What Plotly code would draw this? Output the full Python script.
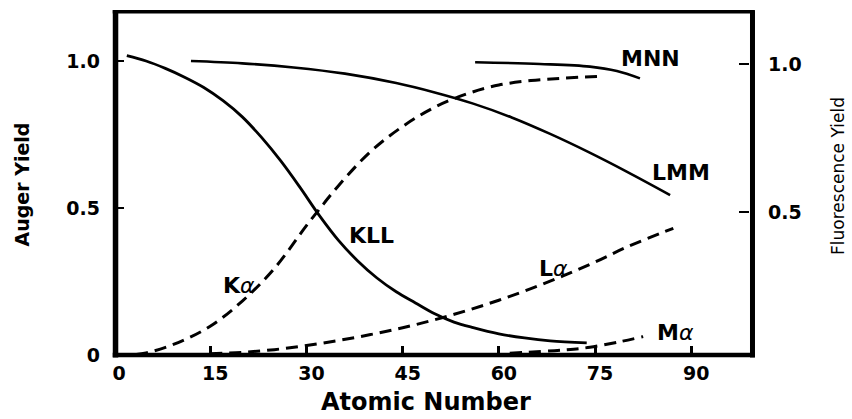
import plotly.graph_objects as go

# Auger yields (left axis)
kll_z = [2, 5, 8, 11, 14, 17, 20, 23, 26, 29, 32, 35, 38, 41, 44, 47, 50, 53, 56, 60, 64, 68, 73.7]
kll_y = [1.018, 1.0, 0.975, 0.945, 0.91, 0.865, 0.81, 0.74, 0.66, 0.57, 0.475, 0.39, 0.32, 0.262,
         0.215, 0.177, 0.14, 0.112, 0.093, 0.072, 0.058, 0.048, 0.041]

lmm_z = [12, 20, 28, 36, 44, 50, 56, 62, 68, 74, 80, 86.7]
lmm_y = [1.0, 0.992, 0.978, 0.957, 0.925, 0.893, 0.855, 0.808, 0.752, 0.69, 0.623, 0.544]

mnn_z = [56.3, 66.4, 74.2, 78.4, 82.0]
mnn_y = [0.996, 0.990, 0.981, 0.966, 0.941]

# Fluorescence yields (right axis)
ka_z = [0.5, 5, 10, 15, 20, 25, 30, 32, 35, 40, 45, 50, 55, 60, 65, 70, 76.3]
ka_y = [0.015, 0.025, 0.06, 0.115, 0.2, 0.31, 0.455, 0.51, 0.59, 0.705, 0.79, 0.855, 0.9, 0.93,
        0.945, 0.953, 0.96]

la_z = [15, 20, 25, 30, 35, 40, 45, 50, 55, 60, 65, 70, 75, 80, 87.2]
la_y = [0.022, 0.027, 0.036, 0.05, 0.067, 0.087, 0.11, 0.137, 0.168, 0.203, 0.242, 0.285, 0.332,
        0.383, 0.446]

ma_z = [61.7, 70.0, 74.2, 78.9, 82.5]
ma_y = [0.024, 0.035, 0.044, 0.063, 0.080]

x_ticks = [0, 15, 30, 45, 60, 75, 90]
auger_ticks = [0, 0.5, 1.0]
auger_ticktext = ["0", "0.5", "1.0"]
fluor_ticks = [0.5, 1.0]
fluor_ticktext = ["0.5", "1.0"]

# curve labels: (text, atomic number, auger-axis value)
alpha = "<span style='font-weight:normal'><i>α</i></span>"
curve_labels = [
    ("MNN", 83.6, 1.007),
    ("LMM", 88.4, 0.622),
    ("KLL", 40.2, 0.405),
    ("K" + alpha, 19.5, 0.238),
    ("L" + alpha, 68.5, 0.293),
    ("M" + alpha, 87.6, 0.075),
]

FONT = "DejaVu Sans"
INK = "#000000"

fig = go.Figure()

solid = dict(color=INK, width=2.6, shape="spline", smoothing=1.0)
dashed = dict(color=INK, width=3, dash="12px,7px", shape="spline", smoothing=1.0)

fig.add_trace(go.Scatter(x=kll_z, y=kll_y, mode="lines", line=dict(solid, width=2.8), name="KLL"))
fig.add_trace(go.Scatter(x=lmm_z, y=lmm_y, mode="lines", line=solid, name="LMM"))
fig.add_trace(go.Scatter(x=mnn_z, y=mnn_y, mode="lines", line=solid, name="MNN"))
fig.add_trace(go.Scatter(x=ka_z, y=ka_y, mode="lines", line=dashed, name="Kα", yaxis="y2"))
fig.add_trace(go.Scatter(x=la_z, y=la_y, mode="lines", line=dashed, name="Lα", yaxis="y2"))
fig.add_trace(go.Scatter(x=ma_z, y=ma_y, mode="lines", line=dashed, name="Mα", yaxis="y2"))

tickfont = dict(family=FONT, size=19, color=INK, weight="bold")

fig.update_layout(
    width=852, height=419,
    margin=dict(l=114, r=103, t=12, b=64),
    paper_bgcolor="white", plot_bgcolor="white",
    showlegend=False,
    xaxis=dict(
        range=[0, 99], tickvals=x_ticks, ticktext=[str(v) for v in x_ticks],
        ticks="inside", ticklen=9, tickwidth=2.5, tickcolor=INK,
        showgrid=False, zeroline=False, showline=False,
        tickfont=tickfont, ticklabelshift=5, ticklabelstandoff=5,
    ),
    yaxis=dict(
        range=[0, 343 / 294], tickvals=auger_ticks, ticktext=auger_ticktext,
        ticks="inside", ticklen=10, tickwidth=2, tickcolor=INK,
        showgrid=False, zeroline=False, showline=False,
        tickfont=tickfont, ticklabelstandoff=13,
    ),
    yaxis2=dict(
        overlaying="y", side="right",
        range=[(360.3 - 355) / 296, (360.3 - 12) / 296],
        tickvals=fluor_ticks, ticktext=fluor_ticktext,
        ticks="inside", ticklen=10, tickwidth=2, tickcolor=INK,
        showgrid=False, zeroline=False, showline=False,
        tickfont=tickfont, ticklabelstandoff=18,
    ),
)

# heavy frame around the plotting area
frame = [
    (0.0024, 0.0024, -0.007, 1.005, 5.5),
    (1.0055, 1.0055, -0.007, 1.005, 5),
    (-0.002, 1.009, 1.0009, 1.0009, 3.5),
    (-0.002, 1.009, 0.0, 0.0, 4.5),
]
for x0, x1, y0, y1, w in frame:
    fig.add_shape(type="line", xref="paper", yref="paper", x0=x0, x1=x1, y0=y0, y1=y1,
                  line=dict(color=INK, width=w), layer="above")

for text, z, v in curve_labels:
    fig.add_annotation(x=z, y=v, xref="x", yref="y", text=text, showarrow=False,
                       xanchor="center", yanchor="middle",
                       font=dict(family=FONT, size=22, color=INK, weight="bold"))

fig.add_annotation(x=-0.1661, y=0.4956, xref="paper", yref="paper", text="Auger Yield",
                   textangle=-90, showarrow=False, xanchor="left", yanchor="middle",
                   font=dict(family=FONT, size=19, color=INK, weight="bold"))
fig.add_annotation(x=1.159, y=0.522, xref="paper", yref="paper", text="Fluorescence Yield",
                   textangle=-90, showarrow=False, xanchor="right", yanchor="middle",
                   font=dict(family=FONT, size=17, color=INK))
fig.add_annotation(x=0.4906, y=-0.1835, xref="paper", yref="paper", text="Atomic Number",
                   showarrow=False, xanchor="center", yanchor="bottom",
                   font=dict(family=FONT, size=24, color=INK, weight="bold"))

fig.write_html("out.html")
